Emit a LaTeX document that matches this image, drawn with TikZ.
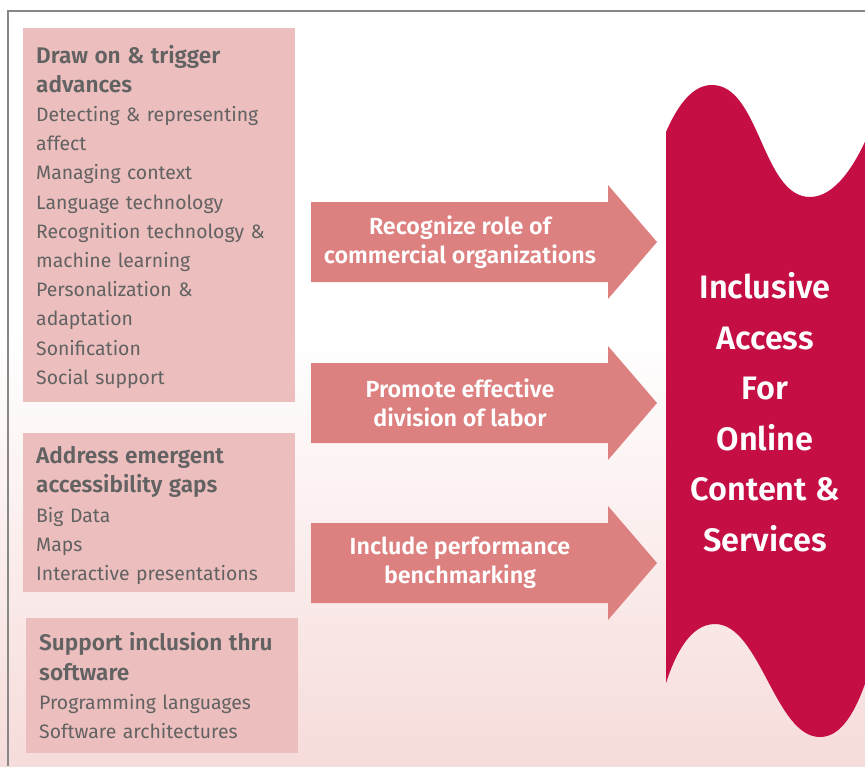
\documentclass[tikz,border=0pt]{standalone}
\usepackage{fontspec}
\setmainfont{Fira Sans}[BoldFont={Fira Sans SemiBold}]
\usepackage{tikz}
\definecolor{Boxpink}{RGB}{236,190,190}
\definecolor{Arrpink}{RGB}{221,128,128}
\definecolor{Bnrred}{RGB}{196,14,68}
\definecolor{Txtgry}{RGB}{98,98,98}
\definecolor{Bgpink}{RGB}{246,220,218}
\definecolor{Frmgray}{RGB}{135,135,135}

\begin{document}
\begin{tikzpicture}[x=1pt, y=-1pt,
    sbox/.style={fill=Boxpink, text=Txtgry, anchor=north west, align=left,
                 minimum width=272pt, text width=246pt, inner xsep=13pt,
                 inner ysep=0pt, font=\fontsize{19.4}{29.2}\selectfont},
    arrtext/.style={text=white, align=center,
                    font=\bfseries\fontsize{23.3}{29}\selectfont}]
    \useasboundingbox (0,0) rectangle (865,766);
    \fill[white] (0,0) rectangle (865,766);
    \shade[top color=white, bottom color=Bgpink] (0,330) rectangle (865,766);
    \draw[Frmgray, line width=2.5pt] (8,766) -- (8,11) -- (865,11);

    % three boxes on the left
    \node[sbox, minimum height=374pt] (advances) at (23,28)
        {{\bfseries\fontsize{22.6}{29.2}\selectfont\rule{0pt}{21pt}Draw on \& trigger\\advances}\\
         Detecting \& representing\\affect\\Managing context\\Language technology\\
         Recognition technology \&\\machine learning\\Personalization \&\\
         adaptation\\Sonification\\Social support};
    \node[sbox, minimum height=159pt] (gaps) at (23,433)
        {{\bfseries\fontsize{22.6}{29.2}\selectfont\rule{0pt}{23pt}Address emergent\\accessibility gaps}\\
         Big Data\\Maps\\Interactive presentations};
    \node[sbox, minimum height=135pt] (software) at (26,618)
        {{\bfseries\fontsize{22.6}{29.2}\selectfont Support inclusion thru\\software}\\
         Programming languages\\Software architectures};

    % arrows
    \foreach \yy/\nm/\txt in {242/recog/{Recognize role of\\commercial organizations},
                             403/labor/{Promote effective\\division of labor},
                             563/bench/{Include performance\\benchmarking}} {
        \fill[Arrpink] (311,\yy-40) -- (608,\yy-40) -- (608,\yy-57) -- (657,\yy)
            -- (608,\yy+57) -- (608,\yy+40) -- (311,\yy+40) -- cycle;
        \node[arrtext] (\nm) at (460,\yy) {\txt};
    }

    % banner
    \fill[Bnrred] (666,132) .. controls (680,100) and (695,85) .. (712,85)
        .. controls (760,85) and (762,197) .. (810,197)
        .. controls (835,197) and (855,165) .. (868,135)
        -- (868,675)
        .. controls (855,715) and (840,737) .. (820,737)
        .. controls (775,737) and (760,624) .. (715,624)
        .. controls (690,624) and (675,655) .. (666,683) -- cycle;
    \node[text=white, align=center, font=\bfseries\fontsize{32.5}{50.5}\selectfont]
        (access) at (765,412)
        {Inclusive\\Access\\For\\Online\\Content \&\\Services};
\end{tikzpicture}
\end{document}
